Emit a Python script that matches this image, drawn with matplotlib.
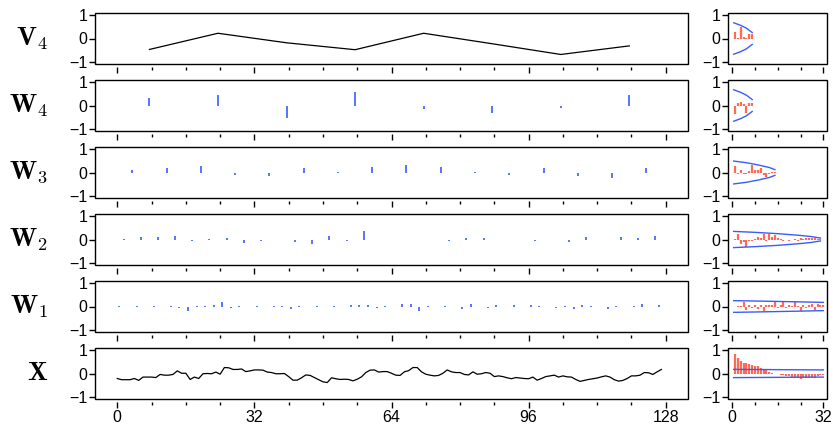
import numpy as np
import matplotlib
matplotlib.use("Agg")
import matplotlib.pyplot as plt
from matplotlib.patches import Rectangle

plt.rcParams['font.family'] = ['Liberation Sans', 'DejaVu Sans']
plt.rcParams['mathtext.fontset'] = 'cm'

# series
x_series = [-0.21, -0.26, -0.26, -0.26, -0.21, -0.29, -0.15, -0.15, -0.15, -0.17,
            -0.04, -0.07, -0.07, -0.04, 0.11, 0.01, 0.01, -0.25, -0.15, -0.21,
            -0.01, 0.00, -0.01, 0.06, -0.03, 0.25, 0.24, 0.17, 0.17, 0.19,
            0.08, 0.11, 0.15, 0.15, 0.14, 0.06, 0.04, -0.01, -0.01, 0.00,
            -0.13, -0.28, -0.28, -0.18, -0.06, -0.08, -0.17, -0.26, -0.35, -0.38,
            -0.18, -0.22, -0.25, -0.24, -0.25, -0.31, -0.24, -0.14, 0.04, 0.14,
            0.15, 0.06, 0.08, 0.08, 0.01, -0.07, -0.08, 0.07, 0.12, 0.25,
            0.25, 0.07, -0.03, -0.07, -0.10, -0.08, 0.01, 0.15, 0.07, 0.04,
            0.04, -0.04, -0.06, 0.07, -0.03, -0.01, 0.04, 0.01, -0.13, -0.10,
            -0.13, -0.18, -0.22, -0.17, -0.19, -0.21, -0.22, -0.15, -0.28, -0.21,
            -0.13, -0.10, -0.07, -0.15, -0.10, -0.14, -0.15, -0.25, -0.33, -0.29,
            -0.25, -0.22, -0.19, -0.14, -0.10, -0.15, -0.26, -0.32, -0.29, -0.21,
            -0.10, -0.10, -0.07, 0.04, 0.03, -0.04, 0.07, 0.17]

w1 = [0.02, -0.03, 0.03, -0.02, 0.03, -0.03, 0.02, -0.08, -0.18, 0.03,
      0.04, 0.07, 0.19, -0.07, 0.03, -0.03, 0.02, -0.04, 0.03, 0.03,
      -0.12, 0.04, -0.03, 0.03, -0.04, 0.03, -0.04, 0.05, 0.07, 0.08,
      -0.08, 0.03, -0.04, 0.11, 0.10, -0.17, 0.03, -0.03, 0.03, -0.04,
      -0.10, 0.09, -0.03, -0.07, 0.08, -0.03, 0.05, -0.03, 0.06, 0.03,
      -0.04, -0.06, 0.03, -0.10, 0.06, 0.03, -0.03, -0.10, 0.03, -0.03,
      0.03, 0.10, -0.03, 0.08]
w2 = [0.02, 0.11, 0.11, 0.14, -0.05, 0.03, 0.08, -0.14, -0.08, -0.03,
      -0.11, -0.17, 0.16, -0.05, 0.36, -0.03, -0.03, -0.03, -0.03, -0.08,
      0.05, 0.05, -0.03, -0.03, -0.05, -0.03, -0.10, 0.10, -0.03, 0.10,
      0.08, 0.13]
w3 = [0.10, 0.17, 0.28, -0.10, -0.15, 0.17, 0.02, 0.25, 0.30, 0.22,
      0.03, -0.11, 0.19, -0.15, -0.24, 0.17]
w4 = [0.33, 0.46, -0.51, 0.57, -0.15, -0.33, -0.12, 0.42]
v4 = [-0.46, 0.22, -0.18, -0.47, 0.22, -0.22, -0.67, -0.31]

# sample autocorrelations (lag 1 upwards)
acf_x = [0.80, 0.64, 0.53, 0.45, 0.42, 0.39, 0.36, 0.33, 0.30, 0.25,
         0.20, 0.14, 0.08, 0.03, -0.02, -0.03, -0.05, -0.06, -0.10, -0.12,
         -0.15, -0.18, -0.20, -0.22, -0.20, -0.20, -0.19, -0.20, -0.18, -0.12,
         -0.08, -0.05]
acf_w1 = [-0.03, 0.03, 0.04, 0.20, -0.14, 0.08, -0.05, 0.06, -0.10, 0.05,
          -0.18, 0.08, 0.08, 0.05, 0.20, -0.06, 0.08, 0.18, -0.05, 0.05,
          0.03, 0.25, 0.04, -0.20, 0.05, -0.06, 0.08, 0.10, -0.14, 0.10,
          0.06, 0.08]
acf_w2 = [0.03, 0.25, -0.17, -0.10, -0.33, -0.08, -0.07, 0.03, 0.11, 0.08,
          0.22, -0.08, 0.22, 0.11, 0.20, 0.06, 0.03, -0.07, -0.04, -0.07,
          -0.04, 0.03, -0.06, 0.08, 0.04, 0.08, 0.08, 0.06, 0.05, 0.04,
          0.03]
acf_w3 = [0.27, -0.06, 0.12, -0.08, -0.08, 0.05, 0.30, 0.12, 0.10, 0.18,
          -0.12, -0.17, -0.05, 0.02, 0.02]
acf_w4 = [-0.35, 0.12, 0.13, 0.08, -0.33, 0.10, 0.12]
acf_v4 = [0.28, 0.03, 0.48, 0.06, 0.04, 0.20, 0.17]

# confidence band half-widths read at a few lags
band_x = ([0.5, 32], [0.173, 0.15])
band_w1 = ([0.5, 8, 16, 24, 32], [0.245, 0.23, 0.212, 0.194, 0.173])
band_w2 = ([0.5, 8, 16, 24, 28, 31], [0.34, 0.30, 0.245, 0.17, 0.12, 0.06])
band_w3 = ([0.5, 5, 9, 13, 15], [0.48, 0.41, 0.32, 0.21, 0.12])
band_w8 = ([0.5, 3, 5, 7], [0.66, 0.55, 0.43, 0.25])

labels = [r'$\mathbf{V}_4$', r'$\mathbf{W}_4$', r'$\mathbf{W}_3$',
          r'$\mathbf{W}_2$', r'$\mathbf{W}_1$', r'$\mathbf{X}$']

BLUE = '#3a5cff'
RED = '#ff6a55'

W, H = 833, 424
fig = plt.figure(figsize=(W / 100, H / 100), dpi=100)

tops = [13, 80, 147, 214, 281, 348]
ph = 51


def style(ax, xlim, major, minor, show_labels):
    ax.set_xlim(*xlim)
    ax.set_ylim(-1.07, 1.07)
    for s in ax.spines.values():
        s.set_visible(False)
    ax.spines['bottom'].set_position(('outward', 2.5))
    ax.add_patch(Rectangle((0, 0), 1, 1, transform=ax.transAxes, fill=False,
                           lw=1.0, ec='black', clip_on=False, zorder=5))
    ax.set_yticks([-1, 0, 1])
    ax.set_yticklabels(['\u22121', '0', '1'])
    ax.set_xticks(major)
    ax.set_xticks(minor, minor=True)
    ax.tick_params(axis='both', which='major', direction='out', length=4,
                   width=1.0, labelsize=11.5, pad=1.5)
    ax.tick_params(axis='x', which='minor', direction='out', length=2.2, width=1.0)
    if not show_labels:
        ax.set_xticklabels([])


data_rows = [v4, w4, w3, w2, w1, None]
acf_rows = [acf_v4, acf_w4, acf_w3, acf_w2, acf_w1, acf_x]
band_rows = [band_w8, band_w8, band_w3, band_w2, band_w1, band_x]
spacing = [16, 16, 8, 4, 2, 1]

for r in range(6):
    bottom = 1 - (tops[r] + ph) / H
    last = r == 5
    ax = fig.add_axes([95 / W, bottom, (688 - 95) / W, ph / H])
    if r == 0:
        t = np.arange(len(v4)) * 16 + 7.5
        ax.plot(t, v4, color='black', lw=0.9)
    elif last:
        ax.plot(np.arange(len(x_series)), x_series, color='black', lw=0.9)
    else:
        vals = data_rows[r]
        t = np.arange(len(vals)) * spacing[r] + spacing[r] / 2 - 0.5
        ax.vlines(t, 0, vals, color=BLUE, lw=1.2)
    style(ax, (-5.2, 133.2), [0, 32, 64, 96, 128],
          [8, 16, 24, 40, 48, 56, 72, 80, 88, 104, 112, 120], last)
    fig.text(48 / W, 1 - (tops[r] + ph / 2) / H, labels[r], fontsize=19,
             ha='right', va='center')

    axr = fig.add_axes([728 / W, bottom, (827 - 728) / W, ph / H])
    acf = acf_rows[r]
    lags = np.arange(1, len(acf) + 1)
    axr.vlines(lags, 0, acf, color=RED, lw=1.6)
    bl, bv = band_rows[r]
    axr.plot(bl, bv, color=BLUE, lw=1.0)
    axr.plot(bl, [-v for v in bv], color=BLUE, lw=1.0)
    style(axr, (-1.5, 33.3), [0, 32], [8, 16, 24], last)

fig.savefig('out.png', dpi=100)
